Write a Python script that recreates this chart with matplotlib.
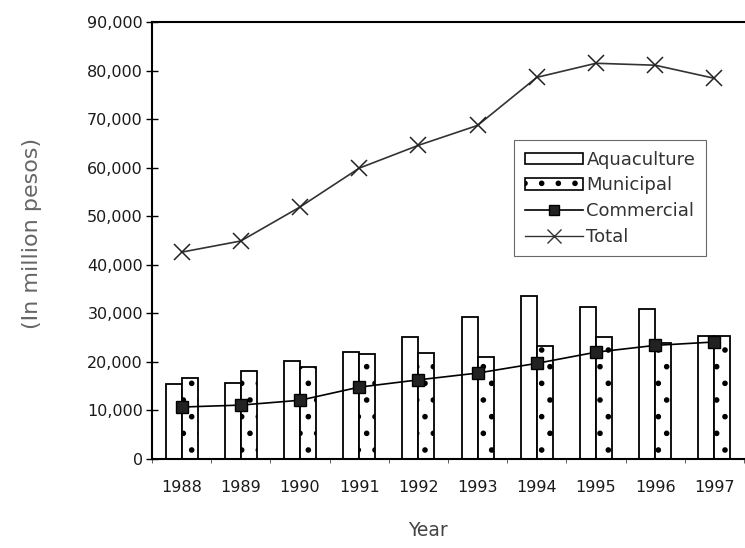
import matplotlib
matplotlib.use("Agg")
import matplotlib.pyplot as plt
import numpy as np
from matplotlib.patches import Patch
from matplotlib.lines import Line2D
from matplotlib.ticker import FuncFormatter, MultipleLocator

plt.rcParams['font.family'] = ['DejaVu Sans']
plt.rcParams['hatch.linewidth'] = 1.6

years = ['1988', '1989', '1990', '1991', '1992', '1993', '1994', '1995', '1996', '1997']
aquaculture = [15400, 15600, 20200, 22000, 25100, 29200, 33500, 31300, 30800, 25300]
municipal = [16700, 18100, 19000, 21600, 21800, 21000, 23200, 25100, 23900, 25300]
commercial = [10700, 11100, 12100, 14800, 16300, 17700, 19700, 22000, 23400, 24100]
total = [42600, 44900, 51900, 59900, 64600, 68700, 78600, 81500, 81100, 78400]

fig = plt.figure(figsize=(7.45, 5.48), dpi=100)
ax = fig.add_axes([152/745, 1-459/548, 592/745, 437/548])

x = np.arange(len(years))
w = 0.27
ax.bar(x - w/2, aquaculture, width=w, color='white', edgecolor='black', linewidth=1.3, zorder=2)
ax.bar(x + w/2, municipal, width=w, color='white', edgecolor='black', linewidth=1.3,
       hatch='.', zorder=2)
ax.plot(x, commercial, color='black', linewidth=1.2, marker='s', markersize=8,
        markerfacecolor='#222222', markeredgecolor='black', zorder=4)
ax.plot(x, total, color='#333333', linewidth=1.2, marker='x', markersize=12,
        markeredgewidth=1.1, markeredgecolor='#222222', zorder=4)

ax.set_xlim(-0.5, len(years) - 0.5)
ax.set_ylim(0, 90000)
ax.yaxis.set_major_locator(MultipleLocator(10000))
ax.yaxis.set_major_formatter(FuncFormatter(lambda v, p: f"{int(v):,}"))
ax.set_xticks(x)
ax.set_xticklabels(years, fontsize=11.5, color='#1a1a1a')
ax.set_xticks(np.arange(-0.5, len(years), 1.0), minor=True)
ax.tick_params(axis='x', which='major', length=0, pad=15)
ax.tick_params(axis='x', which='minor', length=3, direction='out', color='#444444')
ax.tick_params(axis='y', which='major', length=9, direction='inout', width=1.0,
               labelsize=11.5, pad=2, labelcolor='#1a1a1a')

for side in ['left', 'bottom', 'top']:
    ax.spines[side].set_linewidth(1.5)
    ax.spines[side].set_color('black')
ax.spines['right'].set_visible(False)

ax.set_ylabel('(In million pesos)', fontsize=16, color='#666666')
ax.yaxis.set_label_coords(-0.186, 0.517)
ax.set_xlabel('Year', fontsize=13.5, color='#444444')
ax.xaxis.set_label_coords(0.466, -0.142)

handles = [
    Patch(facecolor='white', edgecolor='black', linewidth=1.2, label='Aquaculture'),
    Patch(facecolor='white', edgecolor='black', linewidth=1.2, hatch='.', label='Municipal'),
    Line2D([0], [0], color='black', linewidth=1.2, marker='s', markersize=7,
           markerfacecolor='#222222', label='Commercial'),
    Line2D([0], [0], color='#333333', linewidth=1.0, marker='x', markersize=10,
           markeredgewidth=1.0, label='Total'),
]
leg = ax.legend(handles=handles, loc='upper right', bbox_to_anchor=(0.936, 0.73),
                frameon=True, fancybox=False, fontsize=13, handlelength=3.2,
                handleheight=0.6, handletextpad=0.2, labelspacing=0.42,
                borderpad=0.6, borderaxespad=0)
leg.get_frame().set_edgecolor('#444444')
leg.get_frame().set_linewidth(0.8)
for t in leg.get_texts():
    t.set_color('#333333')

fig.savefig('out.png', dpi=100, facecolor='white')
